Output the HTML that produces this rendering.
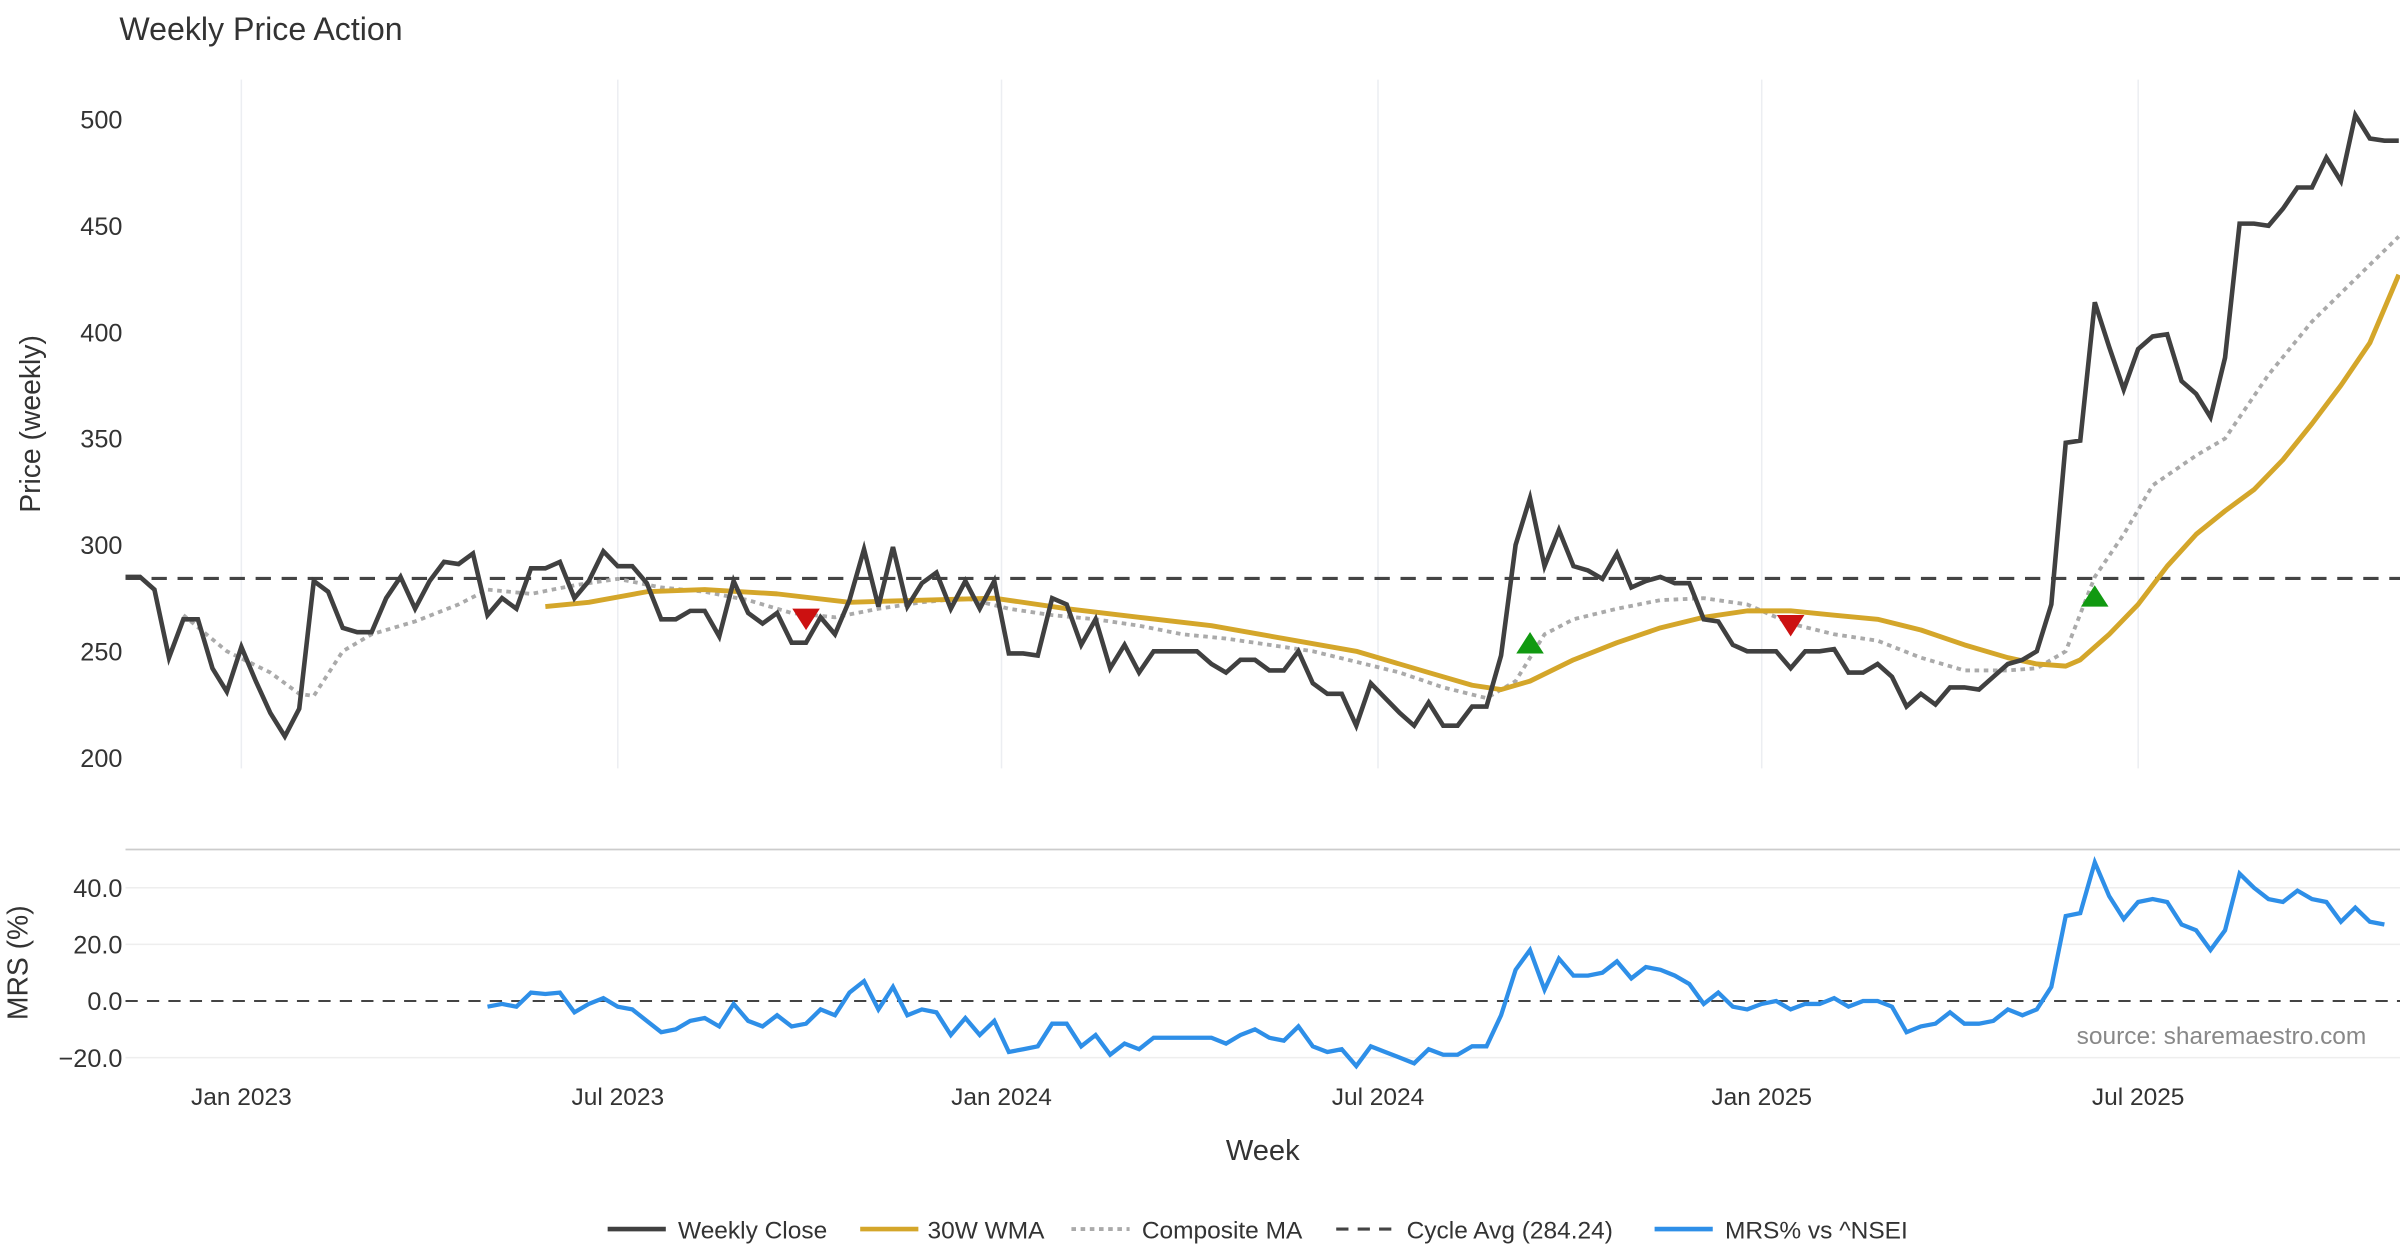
<!DOCTYPE html>
<html><head><meta charset="utf-8"><style>
html,body{margin:0;padding:0;background:#fff;}
svg{display:block;font-family:"Liberation Sans","DejaVu Sans",sans-serif;}
</style></head><body>
<svg id="chart" width="2400" height="1260" viewBox="0 0 1568 823.2" xmlns="http://www.w3.org/2000/svg">
<text x="78" y="26" font-size="21" fill="#333">Weekly Price Action</text>
<g id="grid"></g>
<g id="axes"></g>
<g id="series"></g>
<text transform="translate(26,277) rotate(-90)" text-anchor="middle" font-size="18.5" fill="#333">Price (weekly)</text>
<text transform="translate(18,629) rotate(-90)" text-anchor="middle" font-size="18.5" fill="#333">MRS (%)</text>
<text x="825" y="758" text-anchor="middle" font-size="19" fill="#333">Week</text>
<text x="1546" y="682" text-anchor="end" font-size="16" fill="#888">source: sharemaestro.com</text>
<g id="legend" font-size="16" fill="#333">
<g><line x1="397" y1="803" x2="435" y2="803" stroke="#404040" stroke-width="3"/><text x="443" y="809">Weekly Close</text></g>
<g><line x1="562" y1="803" x2="600" y2="803" stroke="#D4A62A" stroke-width="3"/><text x="606" y="809">30W WMA</text></g>
<g><line x1="700" y1="803" x2="738" y2="803" stroke="#aaa" stroke-width="2.5" stroke-dasharray="3,3"/><text x="746" y="809">Composite MA</text></g>
<g><line x1="873" y1="803" x2="911" y2="803" stroke="#444" stroke-width="2" stroke-dasharray="8,6"/><text x="919" y="809">Cycle Avg (284.24)</text></g>
<g><line x1="1081" y1="803" x2="1119" y2="803" stroke="#2E8FE8" stroke-width="3"/><text x="1127" y="809">MRS% vs ^NSEI</text></g>
</g>
</svg>
<script>
const closeVals=[285,285,279,247,265,265,242,231,252,236,221,210,223,283,278,261,259,259,275,285,270,283,292,291,296,267,275,270,289,289,292,275,283,297,290,290,282,265,265,269,269,257,283,268,263,268,254,254,266,258,274,298,271,299,271,282,287,270,283,270,283,249,249,248,275,272,253,265,242,253,240,250,250,250,250,244,240,246,246,241,241,250,235,230,230,215,235,228,221,215,226,215,215,224,224,248,300,322,290,307,290,288,284,296,280,283,285,282,282,265,264,253,250,250,250,242,250,250,251,240,240,244,238,224,230,225,233,233,232,238,244,246,250,272,348,349,414,393,373,392,398,399,377,371,360,388,451,451,450,458,468,468,482,471,502,491,490,490];
const wmaIdx=[29,32,36,40,45,50,55,60,65,70,75,80,85,90,93,95,97,100,103,106,109,112,115,118,121,124,127,130,132,134,135,137,139,141,143,145,147,149,151,153,155,157];
const wmaVals=[271,273,278,279,277,273,274,275,270,266,262,256,250,240,234,232,236,246,254,261,266,269,269,267,265,260,253,247,244,243,246,258,272,290,305,316,326,340,357,375,395,427];
const compIdx=[4,7,10,12,13,15,17,20,23,25,28,31,34,37,40,43,46,49,52,55,58,61,64,67,70,73,76,79,82,85,88,91,94,96,98,100,103,106,109,112,115,118,121,124,127,130,132,134,136,138,140,143,145,148,151,154,157];
const compVals=[267,250,240,230,229,250,258,264,272,279,277,281,284,280,278,274,268,266,270,273,275,270,267,265,262,258,256,253,250,245,240,233,228,236,258,265,270,274,275,272,263,258,255,247,241,241,242,250,285,305,328,342,350,380,405,425,445];
const mrsStart=25;
const mrsVals=[-2,-1,-2,3,2.5,3,-4,-1,1,-2,-3,-7,-11,-10,-7,-6,-9,-1,-7,-9,-5,-9,-8,-3,-5,3,7,-3,5,-5,-3,-4,-12,-6,-12,-7,-18,-17,-16,-8,-8,-16,-12,-19,-15,-17,-13,-13,-13,-13,-13,-15,-12,-10,-13,-14,-9,-16,-18,-17,-23,-16,-18,-20,-22,-17,-19,-19,-16,-16,-5,11,18,4,15,9,9,10,14,8,12,11,9,6,-1,3,-2,-3,-1,0,-3,-1,-1,1,-2,0,0,-2,-11,-9,-8,-4,-8,-8,-7,-3,-5,-3,5,30,31,49,37,29,35,36,35,27,25,18,25,45,40,36,35,39,36,35,28,33,28,27];
const cycleAvg=284.24;
const sellIdx=[47,115];const sellVals=[265,262];
const buyIdx=[97,136];const buyVals=[254,276];
const priceTicks=[200,250,300,350,400,450,500];
const mrsTicks=[-20,0,20,40];
const monthIdx=[8,34,60.5,86.5,113,139];
const monthLabels=["Jan 2023","Jul 2023","Jan 2024","Jul 2024","Jan 2025","Jul 2025"];

const NS="http://www.w3.org/2000/svg";
const X=i=>82+i*9.46;
const Y=v=>495-(v-200)*1.39;
const YM=v=>654-v*1.85;
function mk(tag,attrs,parent){const e=document.createElementNS(NS,tag);for(const k in attrs)e.setAttribute(k,attrs[k]);parent.appendChild(e);return e;}
const grid=document.getElementById('grid'),axes=document.getElementById('axes'),ser=document.getElementById('series');

monthIdx.forEach((m,k)=>{
  const l=mk('line',{x1:X(m),x2:X(m),y1:52,y2:502,stroke:'#eceef2','stroke-width':1},grid);
  
  
  const t=mk('text',{x:X(m),y:722,'text-anchor':'middle','font-size':16,fill:'#333'},axes);
  t.textContent=monthLabels[k];
  
  
});
priceTicks.forEach(v=>{
  const t=mk('text',{x:80,y:Y(v)+6,'text-anchor':'end','font-size':16.5,fill:'#333'},axes);
  t.textContent=v;
  
  
});
const sep=mk('line',{x1:82,x2:1568,y1:555,y2:555,stroke:'#ccc','stroke-width':1.2},grid);


mrsTicks.forEach(v=>{
  if(v!==0){const g=mk('line',{x1:82,x2:1568,y1:YM(v),y2:YM(v),stroke:'#eee','stroke-width':1},grid);
  
  }
  const t=mk('text',{x:80,y:YM(v)+6,'text-anchor':'end','font-size':16.5,fill:'#333'},axes);
  t.textContent=v.toFixed(1).replace('-','\u2212');
  
  
});
const z=mk('line',{x1:82,x2:1568,y1:YM(0),y2:YM(0),stroke:'#444','stroke-width':1.3,'stroke-dasharray':'8,6'},ser);


const ca=mk('line',{x1:82,x2:1568,y1:Y(cycleAvg),y2:Y(cycleAvg),stroke:'#444','stroke-width':2,'stroke-dasharray':'10,7'},ser);



const pts=(idx,vals,fy)=>vals.map((v,k)=>X(idx[k]).toFixed(1)+','+fy(v).toFixed(1)).join(' ');
const comp=mk('polyline',{points:pts(compIdx,compVals,Y),fill:'none',stroke:'#aaa','stroke-width':2.5,'stroke-dasharray':'3,3'},ser);


const wma=mk('polyline',{points:pts(wmaIdx,wmaVals,Y),fill:'none',stroke:'#D4A62A','stroke-width':3.2,'stroke-linejoin':'round'},ser);


const cl=mk('polyline',{points:pts(closeVals.map((_,i)=>i),closeVals,Y),fill:'none',stroke:'#404040','stroke-width':3,'stroke-linejoin':'miter'},ser);


const mrs=mk('polyline',{points:pts(mrsVals.map((_,i)=>i+mrsStart),mrsVals,YM),fill:'none',stroke:'#2E8FE8','stroke-width':2.8},ser);



sellIdx.forEach((i,k)=>{const x=X(i),y=Y(sellVals[k]);
  const p=mk('polygon',{points:`${x-9},${y-7} ${x+9},${y-7} ${x},${y+7}`,fill:'#CC1111'},ser);
  
  });
buyIdx.forEach((i,k)=>{const x=X(i),y=Y(buyVals[k]);
  const p=mk('polygon',{points:`${x-9},${y+7} ${x+9},${y+7} ${x},${y-7}`,fill:'#119911'},ser);
  
  });
</script>
</body></html>
